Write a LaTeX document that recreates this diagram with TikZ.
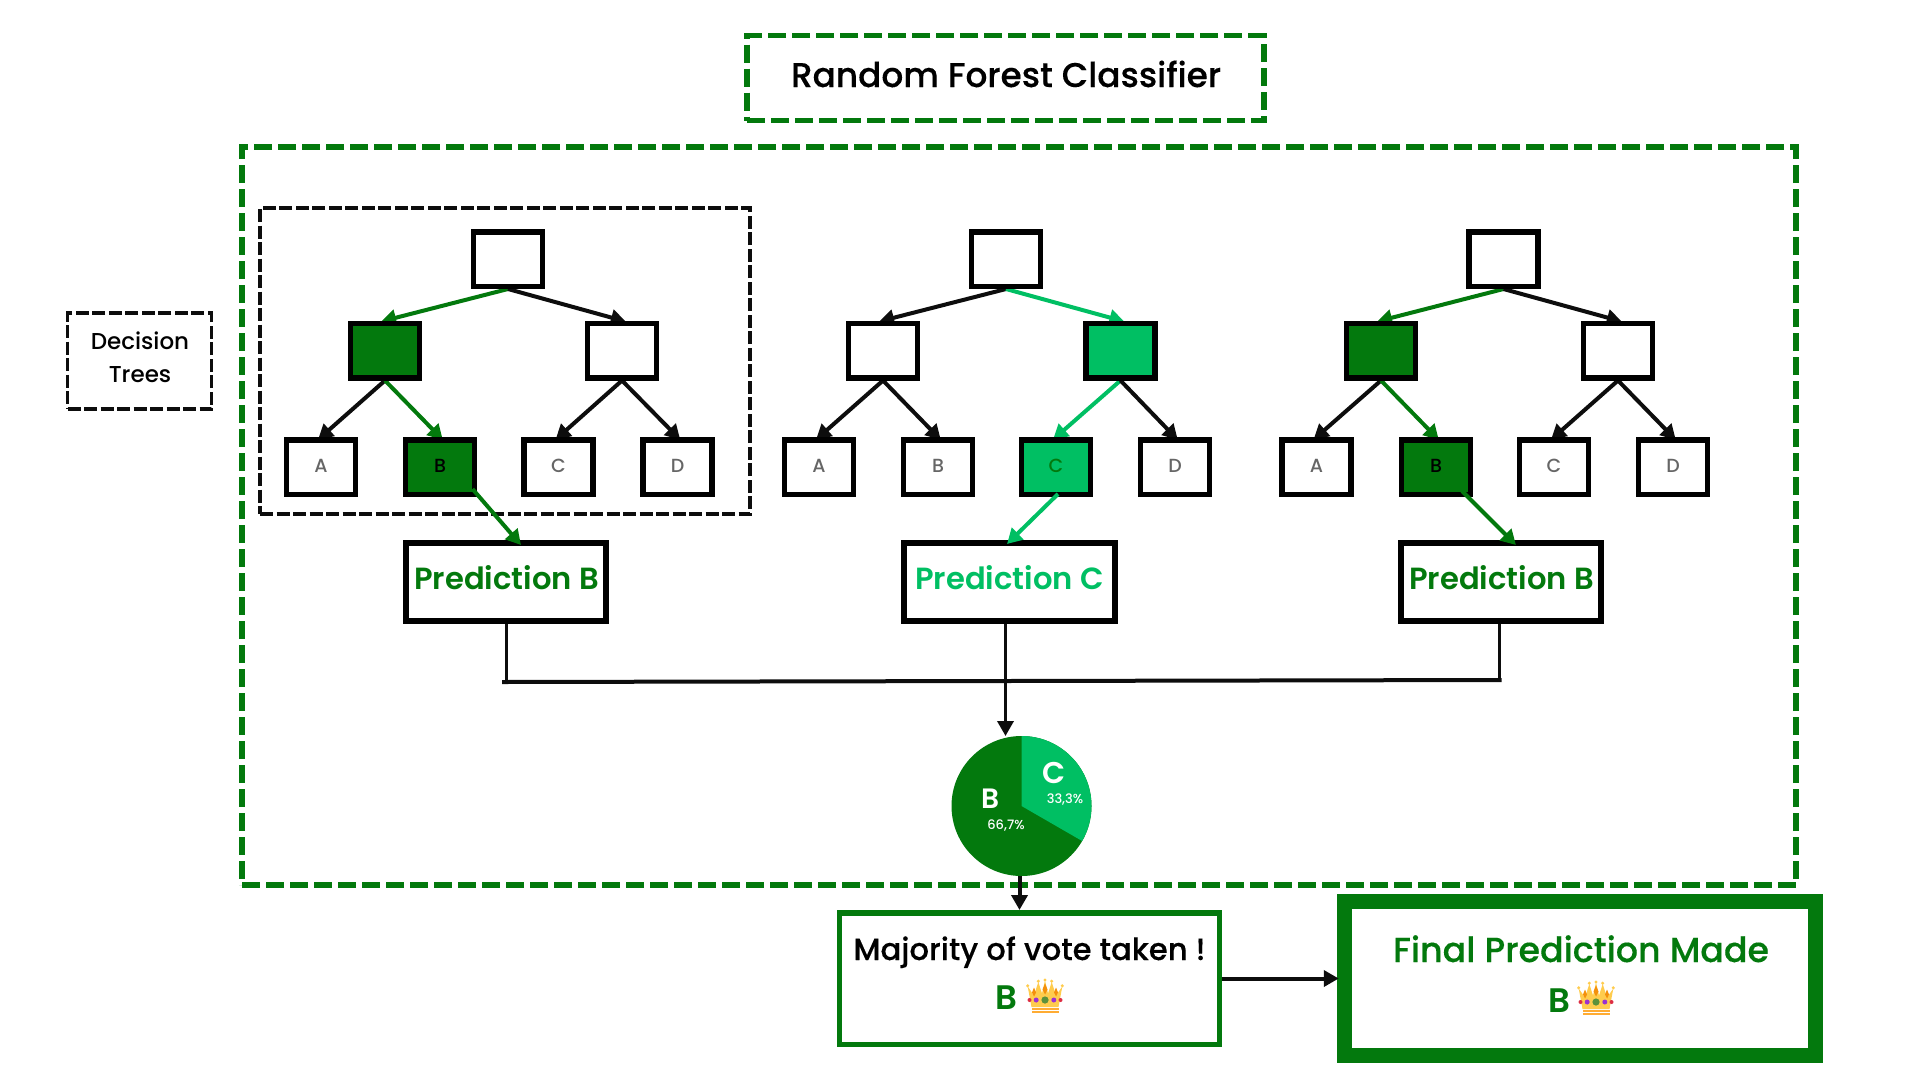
\documentclass[tikz,border=0pt]{standalone}
\usepackage{fontspec}
\setmainfont{Poppins}
\newfontfamily\pmed{Poppins Medium}
\newfontfamily\pmedb[FakeBold=0.25]{Poppins Medium}
\newfontfamily\psemi{Poppins SemiBold}
\usetikzlibrary{arrows.meta,backgrounds}
\definecolor{dkgreen}{HTML}{03790D}
\definecolor{ltgreen}{HTML}{00BF63}
\definecolor{inkk}{HTML}{0D0D0D}
\definecolor{graytxt}{HTML}{666666}
\definecolor{crY}{HTML}{FFCC4D}
\definecolor{crO}{HTML}{FFAC33}
\definecolor{crT}{HTML}{F4900C}
\definecolor{crR}{HTML}{DD2E44}
\definecolor{crP}{HTML}{9B30D0}
\definecolor{crG}{HTML}{5C913B}
\newcommand{\px}[1]{\fontsize{#1}{#1}\selectfont}
\newcommand{\lift}[1]{\raisebox{2pt}{#1}}
\tikzset{
  x=1pt,y=-1pt,
  gdash/.style={draw=dkgreen,line width=5.5pt,dash pattern=on 18pt off 6pt,inner sep=0pt,anchor=center},
  kdash/.style={draw=inkk,line width=3.5pt,dash pattern=on 13pt off 3.5pt,inner sep=0pt,anchor=center},
  nodebox/.style={draw=black,line width=5.5pt,fill=white,minimum width=69pt,minimum height=54.5pt,inner sep=0pt,anchor=center},
  leafbox/.style={nodebox,text=graytxt,font=\pmed\px{19}},
  predbox/.style={draw=black,line width=6pt,fill=white,inner sep=0pt,anchor=center},
  tip/.style={-{Triangle[length=15pt,width=16pt]}},
  kline/.style={draw=inkk,line width=4pt,tip,shorten >=-4pt},
  dline/.style={draw=dkgreen,line width=4pt,tip,shorten >=-4pt},
  lline/.style={draw=ltgreen,line width=4pt,tip,shorten >=-4pt},
  kthin/.style={draw=inkk,line width=3.5pt},
  karrow/.style={draw=inkk,line width=4pt,tip},
  crownpic/.pic={
    \fill[crY] (-17.3,-10) -- (-11,-1) -- (-6.7,-14.5) -- (-3,-3) -- (0,-16) -- (3,-3) -- (6.7,-14.5) -- (11,-1) -- (17.3,-10) -- (13.5,10.5) -- (-13.5,10.5) -- cycle;
    \fill[crY] (-17.3,-10.7) circle (1.7) (-6.7,-15.3) circle (1.7) (0,-16.5) circle (1.7) (6.7,-15.3) circle (1.7) (17.3,-10.7) circle (1.7);
    \fill[crT] (-11,-9) -- (-13,-4) -- (-11,0) -- (-9,-4) -- cycle;
    \fill[crT] (11,-9) -- (13,-4) -- (11,0) -- (9,-4) -- cycle;
    \fill[crT] (0,-13) -- (-2.5,-7) -- (0,-2) -- (2.5,-7) -- cycle;
    \fill[crO] (-13.5,11.5) rectangle (13.5,13.7);
    \fill[crO] (-13.5,14.7) rectangle (13.5,16.5);
    \fill[crR] (-15.5,3.5) circle (2);
    \fill[crR] (15.5,3.5) circle (2);
    \fill[crP] (-8.8,3.5) circle (2.5);
    \fill[crP] (8.8,3.5) circle (2.5);
    \fill[crG] (0,3.5) circle (3.6);
  }
}
\begin{document}
\begin{tikzpicture}
\useasboundingbox (0,0) rectangle (1920,1080);
% frames
\node[gdash,minimum width=517pt,minimum height=85pt] (title) at (1005.5,78) {};
\node[anchor=base,font=\pmedb\px{34.3}] (titletext) at (1006,87) {Random Forest Classifier};
\node[gdash,minimum width=1554pt,minimum height=738pt] (outer) at (1019,516) {};
\node[kdash,minimum width=490pt,minimum height=306pt] (group) at (505,361) {};
\node[kdash,minimum width=144pt,minimum height=96pt] (dt) at (139.5,361) {};
\node[anchor=base,font=\pmed\px{23}] (dt1) at (140,349.5) {Decision};
\node[anchor=base,font=\pmed\px{23}] (dt2) at (140,382) {Trees};

% tree 1
\node[nodebox] (r1) at (508,259) {};
\node[nodebox,fill=dkgreen] (l1) at (385,350.5) {};
\node[nodebox] (m1) at (622,350.5) {};
\node[leafbox] (a1) at (321,467) {\lift{A}};
\node[leafbox,fill=dkgreen,text=black] (b1) at (440,467) {\lift{B}};
\node[leafbox] (c1) at (558.5,467) {\lift{C}};
\node[leafbox] (d1) at (677.5,467) {\lift{D}};
% tree 2
\node[nodebox] (r2) at (1006,259) {};
\node[nodebox] (l2) at (883,350.5) {};
\node[nodebox,fill=ltgreen] (m2) at (1120.5,350.5) {};
\node[leafbox] (a2) at (819,467) {\lift{A}};
\node[leafbox] (b2) at (938,467) {\lift{B}};
\node[leafbox,fill=ltgreen,text=dkgreen] (c2) at (1056,467) {\lift{C}};
\node[leafbox] (d2) at (1175,467) {\lift{D}};
% tree 3
\node[nodebox] (r3) at (1503.5,259) {};
\node[nodebox,fill=dkgreen] (l3) at (1381,350.5) {};
\node[nodebox] (m3) at (1618,350.5) {};
\node[leafbox] (a3) at (1316.5,467) {\lift{A}};
\node[leafbox,fill=dkgreen,text=black] (b3) at (1436,467) {\lift{B}};
\node[leafbox] (c3) at (1554,467) {\lift{C}};
\node[leafbox] (d3) at (1673,467) {\lift{D}};
% predictions
\node[predbox,minimum width=200pt,minimum height=77.5pt] (p1) at (506,582) {};
\node[anchor=base,font=\psemi\px{30.6}] (p1t) [text=dkgreen] at (506.5,589) {Prediction B};
\node[predbox,minimum width=211pt,minimum height=77.5pt] (p2) at (1009,582) {};
\node[anchor=base,font=\psemi\px{30.6}] (p2t) [text=ltgreen] at (1009.5,589) {Prediction C};
\node[predbox,minimum width=200pt,minimum height=77.5pt] (p3) at (1501,582) {};
\node[anchor=base,font=\psemi\px{30.6}] (p3t) [text=dkgreen] at (1501.5,589) {Prediction B};

% tree connectors (arrowheads tucked under the boxes)
\begin{pgfonlayer}{background}
\draw[dline] (r1.south) -- (l1.north);
\draw[kline] (r1.south) -- (m1.north);
\draw[kline] (l1.south) -- (a1.north);
\draw[dline] (l1.south) -- (b1.north);
\draw[kline] (m1.south) -- (c1.north);
\draw[kline] (m1.south) -- (d1.north);
\draw[kline] (r2.south) -- (l2.north);
\draw[lline] (r2.south) -- (m2.north);
\draw[kline] (l2.south) -- (a2.north);
\draw[kline] (l2.south) -- (b2.north);
\draw[lline] (m2.south) -- (c2.north);
\draw[kline] (m2.south) -- (d2.north);
\draw[dline] (r3.south) -- (l3.north);
\draw[kline] (r3.south) -- (m3.north);
\draw[kline] (l3.south) -- (a3.north);
\draw[dline] (l3.south) -- (b3.north);
\draw[kline] (m3.south) -- (c3.north);
\draw[kline] (m3.south) -- (d3.north);
\end{pgfonlayer}
% leaf to prediction
\coordinate (s1) at (472.5,489); \coordinate (t1) at (521,545);
\draw[dline,shorten >=0pt] (s1) -- (t1);
\coordinate (s2) at (1058,494); \coordinate (t2) at (1007,544);
\draw[lline,shorten >=0pt] (s2) -- (t2);
\coordinate (s3) at (1462,491); \coordinate (t3) at (1516,545);
\draw[dline,shorten >=0pt] (s3) -- (t3);

% merge lines
\coordinate (j1) at (506.5,682);
\coordinate (j3) at (1499.5,680);
\coordinate (jm) at (1005,681);
\coordinate (jl) at (502,682);
\coordinate (jr) at (1501.5,680);
\draw[kthin] (p1.south -| j1) -- (j1);
\draw[kthin] (p3.south -| j3) -- (j3);
\draw[draw=inkk,line width=4pt] (jl) -- (jm) -- (jr);

% pie
\node[circle,fill=dkgreen,minimum size=140pt,inner sep=0pt,anchor=center] (pie) at (1021.5,806) {};
\begin{scope}[shift={(pie.center)},y=1pt]
\fill[ltgreen] (0,0) -- (0,70) arc[start angle=90,end angle=-30,radius=70] -- cycle;
\end{scope}
\coordinate (ptop) at (1005.5,736);
\draw[karrow,line width=3.5pt] (p2.south -| ptop) -- (ptop);
\node[anchor=base,text=white,font=\psemi\px{28}] (pB) at (990,808) {B};
\node[anchor=base,text=white,font=\pmed\px{13}] (pBv) at (1006,829.5) {66,7\%};
\node[anchor=base,text=white,font=\psemi\px{30}] (pC) at (1054,783) {C};
\node[anchor=base,text=white,font=\pmed\px{13}] (pCv) at (1065,803) {33,3\%};

% bottom boxes
\node[draw=dkgreen,line width=5.5pt,fill=white,inner sep=0pt,anchor=center,minimum width=380pt,minimum height=131.5pt] (maj) at (1029.5,978.5) {};
\node[anchor=base,font=\pmedb\px{30.7}] (majt) at (1029.5,960) {Majority of vote taken !};
\node[anchor=base,font=\psemi\px{34}] (majb) [text=dkgreen] at (1006,1009.5) {B};
\pic at (1045,996.5) {crownpic};
\node[draw=dkgreen,line width=15pt,fill=white,inner sep=0pt,anchor=center,minimum width=471.5pt,minimum height=154pt] (fin) at (1580,978.5) {};
\node[anchor=base,font=\pmedb\px{34.8}] (fint) [text=dkgreen] at (1581,962) {Final Prediction Made};
\node[anchor=base,font=\psemi\px{34}] (finb) [text=dkgreen] at (1559,1012) {B};
\pic at (1596,998.5) {crownpic};

% arrows
\coordinate (mv) at (1019.5,910);
\draw[karrow] (mv |- pie.south) -- (mv);
\draw[karrow,shorten >=-2pt] (maj.east) -- (fin.west);
\end{tikzpicture}
\end{document}
